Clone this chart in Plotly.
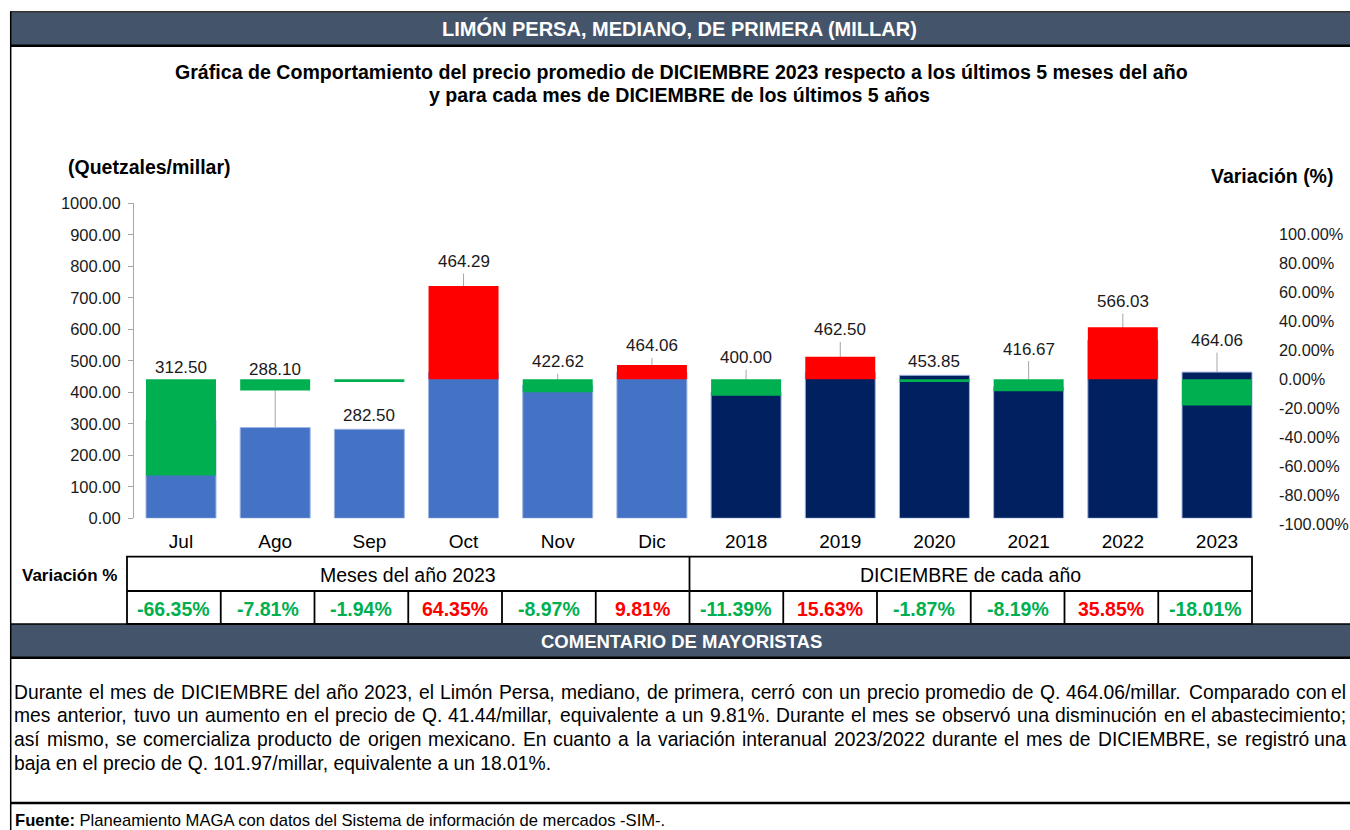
import plotly.graph_objects as go

W, H = 1350, 830

# ---------------- data ----------------
categories = ['Jul', 'Ago', 'Sep', 'Oct', 'Nov', 'Dic', '2018', '2019', '2020', '2021', '2022', '2023']
prices = [312.50, 288.10, 282.50, 464.29, 422.62, 464.06, 400.00, 462.50, 453.85, 416.67, 566.03, 464.06]
variation = [-66.35, -7.81, -1.94, 64.35, -8.97, 9.81, -11.39, 15.63, -1.87, -8.19, 35.85, -18.01]
period_group = ['mes'] * 6 + ['anio'] * 6
left_ticks = [0, 100, 200, 300, 400, 500, 600, 700, 800, 900, 1000]
right_ticks = [-100, -80, -60, -40, -20, 0, 20, 40, 60, 80, 100]
group_titles = ['Meses del año 2023', 'DICIEMBRE de cada año']

header_text = 'LIMÓN PERSA, MEDIANO, DE PRIMERA (MILLAR)'
title_lines = ['Gráfica de Comportamiento del precio promedio de DICIEMBRE 2023 respecto a los últimos 5 meses del año',
               'y para cada mes de DICIEMBRE de los últimos 5 años']
comment_lines = [
    'Durante el mes de DICIEMBRE del año 2023, el Limón Persa, mediano, de primera, cerró con un precio promedio de Q. 464.06/millar. Comparado con el',
    'mes anterior, tuvo un aumento en el precio de Q. 41.44/millar, equivalente a un 9.81%. Durante el mes se observó una disminución en el abastecimiento;',
    'así mismo, se comercializa producto de origen mexicano.  En cuanto a la variación interanual 2023/2022 durante el mes de DICIEMBRE, se registró una',
    'baja en el precio de Q. 101.97/millar, equivalente a un 18.01%.',
]
footer_bold = 'Fuente:'
footer_text = ' Planeamiento MAGA con datos del Sistema de información de mercados -SIM-.'

# ---------------- layout helpers (positions / styles) ----------------
label_y = [478, 471, 326, 815, 497, 547, 510, 598, 497, 537, 688, 564]
has_leader = [False, True, False, True, True, True, True, True, False, True, True, True]

FONT = 'Liberation Sans, Arial, sans-serif'
HDR = '#44546A'
BLUE, NAVY, GREEN, RED = '#4472C4', '#002060', '#00B050', '#FF0000'
Y2_RANGE = [-95.9, 121.4]
TXT = '#1a1a1a'


def px(x):
    return x / W


def py(y):
    return 1 - y / H


price_colors = [BLUE if g == 'mes' else NAVY for g in period_group]
var_colors = [GREEN if v < 0 else RED for v in variation]

fig = go.Figure()
fig.add_trace(go.Bar(x=categories, y=prices, yaxis='y',
                     marker=dict(color=price_colors, line=dict(color='#9DB3E0', width=1)),
                     showlegend=False, hoverinfo='x+y'))
fig.add_trace(go.Bar(x=categories, y=variation, yaxis='y2',
                     marker=dict(color=var_colors, line=dict(width=0)),
                     showlegend=False, hoverinfo='x+y'))

PLOT_L, PLOT_R, PLOT_T, PLOT_B = 133.9, 1264.1, 203.3, 518.3

shapes = []
ann = []

# header bar
shapes.append(dict(type='rect', xref='paper', yref='paper', x0=px(10), x1=px(1350), y0=py(45.7), y1=py(11.7),
                   fillcolor=HDR, line=dict(width=0), layer='below'))
shapes.append(dict(type='line', xref='paper', yref='paper', x0=px(10), x1=px(1350), y0=py(11.7), y1=py(11.7),
                   line=dict(color='#333333', width=1.5)))
shapes.append(dict(type='line', xref='paper', yref='paper', x0=px(10), x1=px(1350), y0=py(45.7), y1=py(45.7),
                   line=dict(color='black', width=2.5)))
# left frame
shapes.append(dict(type='line', xref='paper', yref='paper', x0=px(10.7), x1=px(10.7), y0=py(11.7), y1=py(830),
                   line=dict(color='black', width=1.5)))
# comentario bar
shapes.append(dict(type='rect', xref='paper', yref='paper', x0=px(10), x1=px(1350), y0=py(657.7), y1=py(624),
                   fillcolor=HDR, line=dict(width=0), layer='below'))
shapes.append(dict(type='line', xref='paper', yref='paper', x0=px(10), x1=px(1350), y0=py(657.7), y1=py(657.7),
                   line=dict(color='black', width=2.5)))
shapes.append(dict(type='line', xref='paper', yref='paper', x0=px(10), x1=px(1350), y0=py(624), y1=py(624),
                   line=dict(color='black', width=1.5)))
# footer line
shapes.append(dict(type='line', xref='paper', yref='paper', x0=px(10), x1=px(1350), y0=py(803), y1=py(803),
                   line=dict(color='black', width=2.5)))

# table
T_L, T_R, T_TOP, T_MID, T_BOT = 127, 1252, 556.7, 591, 624
cell_w = (T_R - T_L) / len(categories)
shapes.append(dict(type='rect', xref='paper', yref='paper', x0=px(T_L), x1=px(T_R), y0=py(T_BOT), y1=py(T_TOP),
                   line=dict(color='black', width=1.8)))
shapes.append(dict(type='line', xref='paper', yref='paper', x0=px(T_L), x1=px(T_R), y0=py(T_MID), y1=py(T_MID),
                   line=dict(color='black', width=1.8)))
for k in range(1, len(categories)):
    xk = T_L + k * cell_w
    top = T_TOP if k == 6 else T_MID
    shapes.append(dict(type='line', xref='paper', yref='paper', x0=px(xk), x1=px(xk), y0=py(T_BOT), y1=py(top),
                       line=dict(color='black', width=1.8)))
for g, title in enumerate(group_titles):
    cx = T_L + (g * 6 + 3) * cell_w
    ann.append(dict(xref='paper', yref='paper', x=px(cx), y=py((T_TOP + T_MID) / 2 + 1), text=title,
                    showarrow=False, font=dict(size=19.5, color='black'), xanchor='center', yanchor='middle'))
for i, v in enumerate(variation):
    cx = T_L + (i + 0.5) * cell_w
    ann.append(dict(xref='paper', yref='paper', x=px(cx), y=py((T_MID + T_BOT) / 2 + 1),
                    text=f'<b>{v:.2f}%</b>', showarrow=False,
                    font=dict(size=19.5, color=var_colors[i]), xanchor='center', yanchor='middle'))
ann.append(dict(xref='paper', yref='paper', x=px(69), y=py(575), text='<b>Variación %</b>', showarrow=False,
                font=dict(size=17, color='black'), xanchor='center', yanchor='middle'))

# header / titles
ann.append(dict(xref='paper', yref='paper', x=px(680), y=py(28.5), text=f'<b>{header_text}</b>', showarrow=False,
                font=dict(size=20, color='white'), xanchor='center', yanchor='middle'))
ann.append(dict(xref='paper', yref='paper', x=px(681), y=py(71.5), text=f'<b>{title_lines[0]}</b>', showarrow=False,
                font=dict(size=19.6, color='black'), xanchor='center', yanchor='middle'))
ann.append(dict(xref='paper', yref='paper', x=px(680), y=py(94.5), text=f'<b>{title_lines[1]}</b>', showarrow=False,
                font=dict(size=19.6, color='black'), xanchor='center', yanchor='middle'))
ann.append(dict(xref='paper', yref='paper', x=px(66), y=py(167), text='<b>(Quetzales/millar)</b>', showarrow=False,
                font=dict(size=19.5, color='black'), xanchor='left', yanchor='middle'))
ann.append(dict(xref='paper', yref='paper', x=px(1272), y=py(176), text='<b>Variación (%)</b>', showarrow=False,
                font=dict(size=19.5, color='black'), xanchor='center', yanchor='middle'))
ann.append(dict(xref='paper', yref='paper', x=px(681), y=py(641), text='<b>COMENTARIO DE MAYORISTAS</b>',
                showarrow=False, font=dict(size=18.5, color='white'), xanchor='center', yanchor='middle'))
ann.append(dict(xref='paper', yref='paper', x=px(13), y=py(820), text=f'<b>{footer_bold}</b>{footer_text}',
                showarrow=False, font=dict(size=16.6, color='black'), xanchor='left', yanchor='middle'))

# right-axis labels (incl. -100%, which lies just below the plotted range)
y2_scale = (PLOT_B - PLOT_T) / (Y2_RANGE[1] - Y2_RANGE[0])
y2_zero_px = PLOT_B + Y2_RANGE[0] * y2_scale
for t in right_ticks:
    ann.append(dict(xref='paper', yref='paper', x=px(1277), y=py(y2_zero_px - t * y2_scale),
                    text=f'{t:.2f}%', showarrow=False, font=dict(size=16.3, color=TXT),
                    xanchor='left', yanchor='middle'))

# data labels + leader lines
for i, c in enumerate(categories):
    ann.append(dict(xref='x', yref='y', x=i, y=label_y[i], text=f'{prices[i]:.2f}', showarrow=False,
                    font=dict(size=17, color=TXT), xanchor='center', yanchor='middle'))
    if has_leader[i]:
        shapes.append(dict(type='line', xref='x', yref='y', x0=i, x1=i, y0=label_y[i] - 38, y1=prices[i],
                           line=dict(color='#A6A6A6', width=1), layer='below'))

# justified comment text
AW = {' ': 278, ',': 278, '.': 278, ';': 278, ':': 278, '/': 278, '-': 333, '%': 889, '(': 333, ')': 333,
      'a': 556, 'b': 556, 'c': 500, 'd': 556, 'e': 556, 'f': 278, 'g': 556, 'h': 556, 'i': 222, 'j': 222,
      'k': 500, 'l': 222, 'm': 833, 'n': 556, 'o': 556, 'p': 556, 'q': 556, 'r': 333, 's': 500, 't': 278,
      'u': 556, 'v': 500, 'w': 722, 'x': 500, 'y': 500, 'z': 500,
      'A': 667, 'B': 667, 'C': 722, 'D': 722, 'E': 667, 'F': 611, 'G': 778, 'H': 722, 'I': 278, 'J': 500,
      'K': 667, 'L': 556, 'M': 833, 'N': 722, 'O': 778, 'P': 667, 'Q': 778, 'R': 722, 'S': 667, 'T': 611,
      'U': 722, 'V': 667, 'W': 944, 'X': 667, 'Y': 667, 'Z': 611,
      'á': 556, 'é': 556, 'í': 278, 'ó': 556, 'ú': 556, 'ñ': 556}


def text_w(s, size):
    return sum(AW.get(ch, 556) for ch in s) * size / 1000


C_SIZE = 19.3
C_LEFT, C_RIGHT = 13, 1347
C_Y0, C_PITCH = 692, 23.8
for k, line in enumerate(comment_lines):
    yk = py(C_Y0 + k * C_PITCH)
    words = line.split()
    if k == len(comment_lines) - 1:
        ann.append(dict(xref='paper', yref='paper', x=px(C_LEFT), y=yk, text=line, showarrow=False, borderpad=0,
                        font=dict(size=C_SIZE, color='black'), xanchor='left', yanchor='middle'))
        continue
    widths = [text_w(w, C_SIZE) for w in words]
    gap = (C_RIGHT - C_LEFT - sum(widths)) / (len(words) - 1)
    xw = C_LEFT
    for j, (w, wd) in enumerate(zip(words, widths)):
        if j == len(words) - 1:
            ann.append(dict(xref='paper', yref='paper', x=px(C_RIGHT), y=yk, text=w, showarrow=False,
                            borderpad=0, font=dict(size=C_SIZE, color='black'), xanchor='right', yanchor='middle'))
        else:
            ann.append(dict(xref='paper', yref='paper', x=px(xw), y=yk, text=w, showarrow=False,
                            borderpad=0, font=dict(size=C_SIZE, color='black'), xanchor='left', yanchor='middle'))
        xw += wd + gap

fig.update_layout(
    width=W, height=H,
    margin=dict(l=0, r=0, t=0, b=0, autoexpand=False),
    paper_bgcolor='white', plot_bgcolor='white',
    font=dict(family=FONT, color='black'),
    barmode='overlay', bargap=0.257,
    showlegend=False,
    xaxis=dict(domain=[px(PLOT_L), px(PLOT_R)], type='category', range=[-0.5, len(categories) - 0.5],
               showline=False, showgrid=False,
               zeroline=False, ticks='outside', ticklen=0, tickfont=dict(size=19, color='black'),
               ticklabelstandoff=6, fixedrange=True),
    yaxis=dict(domain=[py(PLOT_B), py(PLOT_T)], range=[0, 1000], tickvals=left_ticks, tickformat='.2f',
               showline=True, linecolor='#A6A6A6', linewidth=1, ticks='outside', ticklen=5,
               tickcolor='#A6A6A6', showgrid=False, zeroline=False,
               tickfont=dict(size=16.5, color=TXT), ticklabelstandoff=4),
    yaxis2=dict(overlaying='y', side='right', range=Y2_RANGE, showticklabels=False,
                showline=False, showgrid=False, zeroline=False, ticks='', anchor='x'),
    shapes=shapes,
    annotations=ann,
)

fig.write_html('out.html', config={'displayModeBar': False},
               post_script="document.body.style.margin='0';document.body.style.overflow='hidden';")
